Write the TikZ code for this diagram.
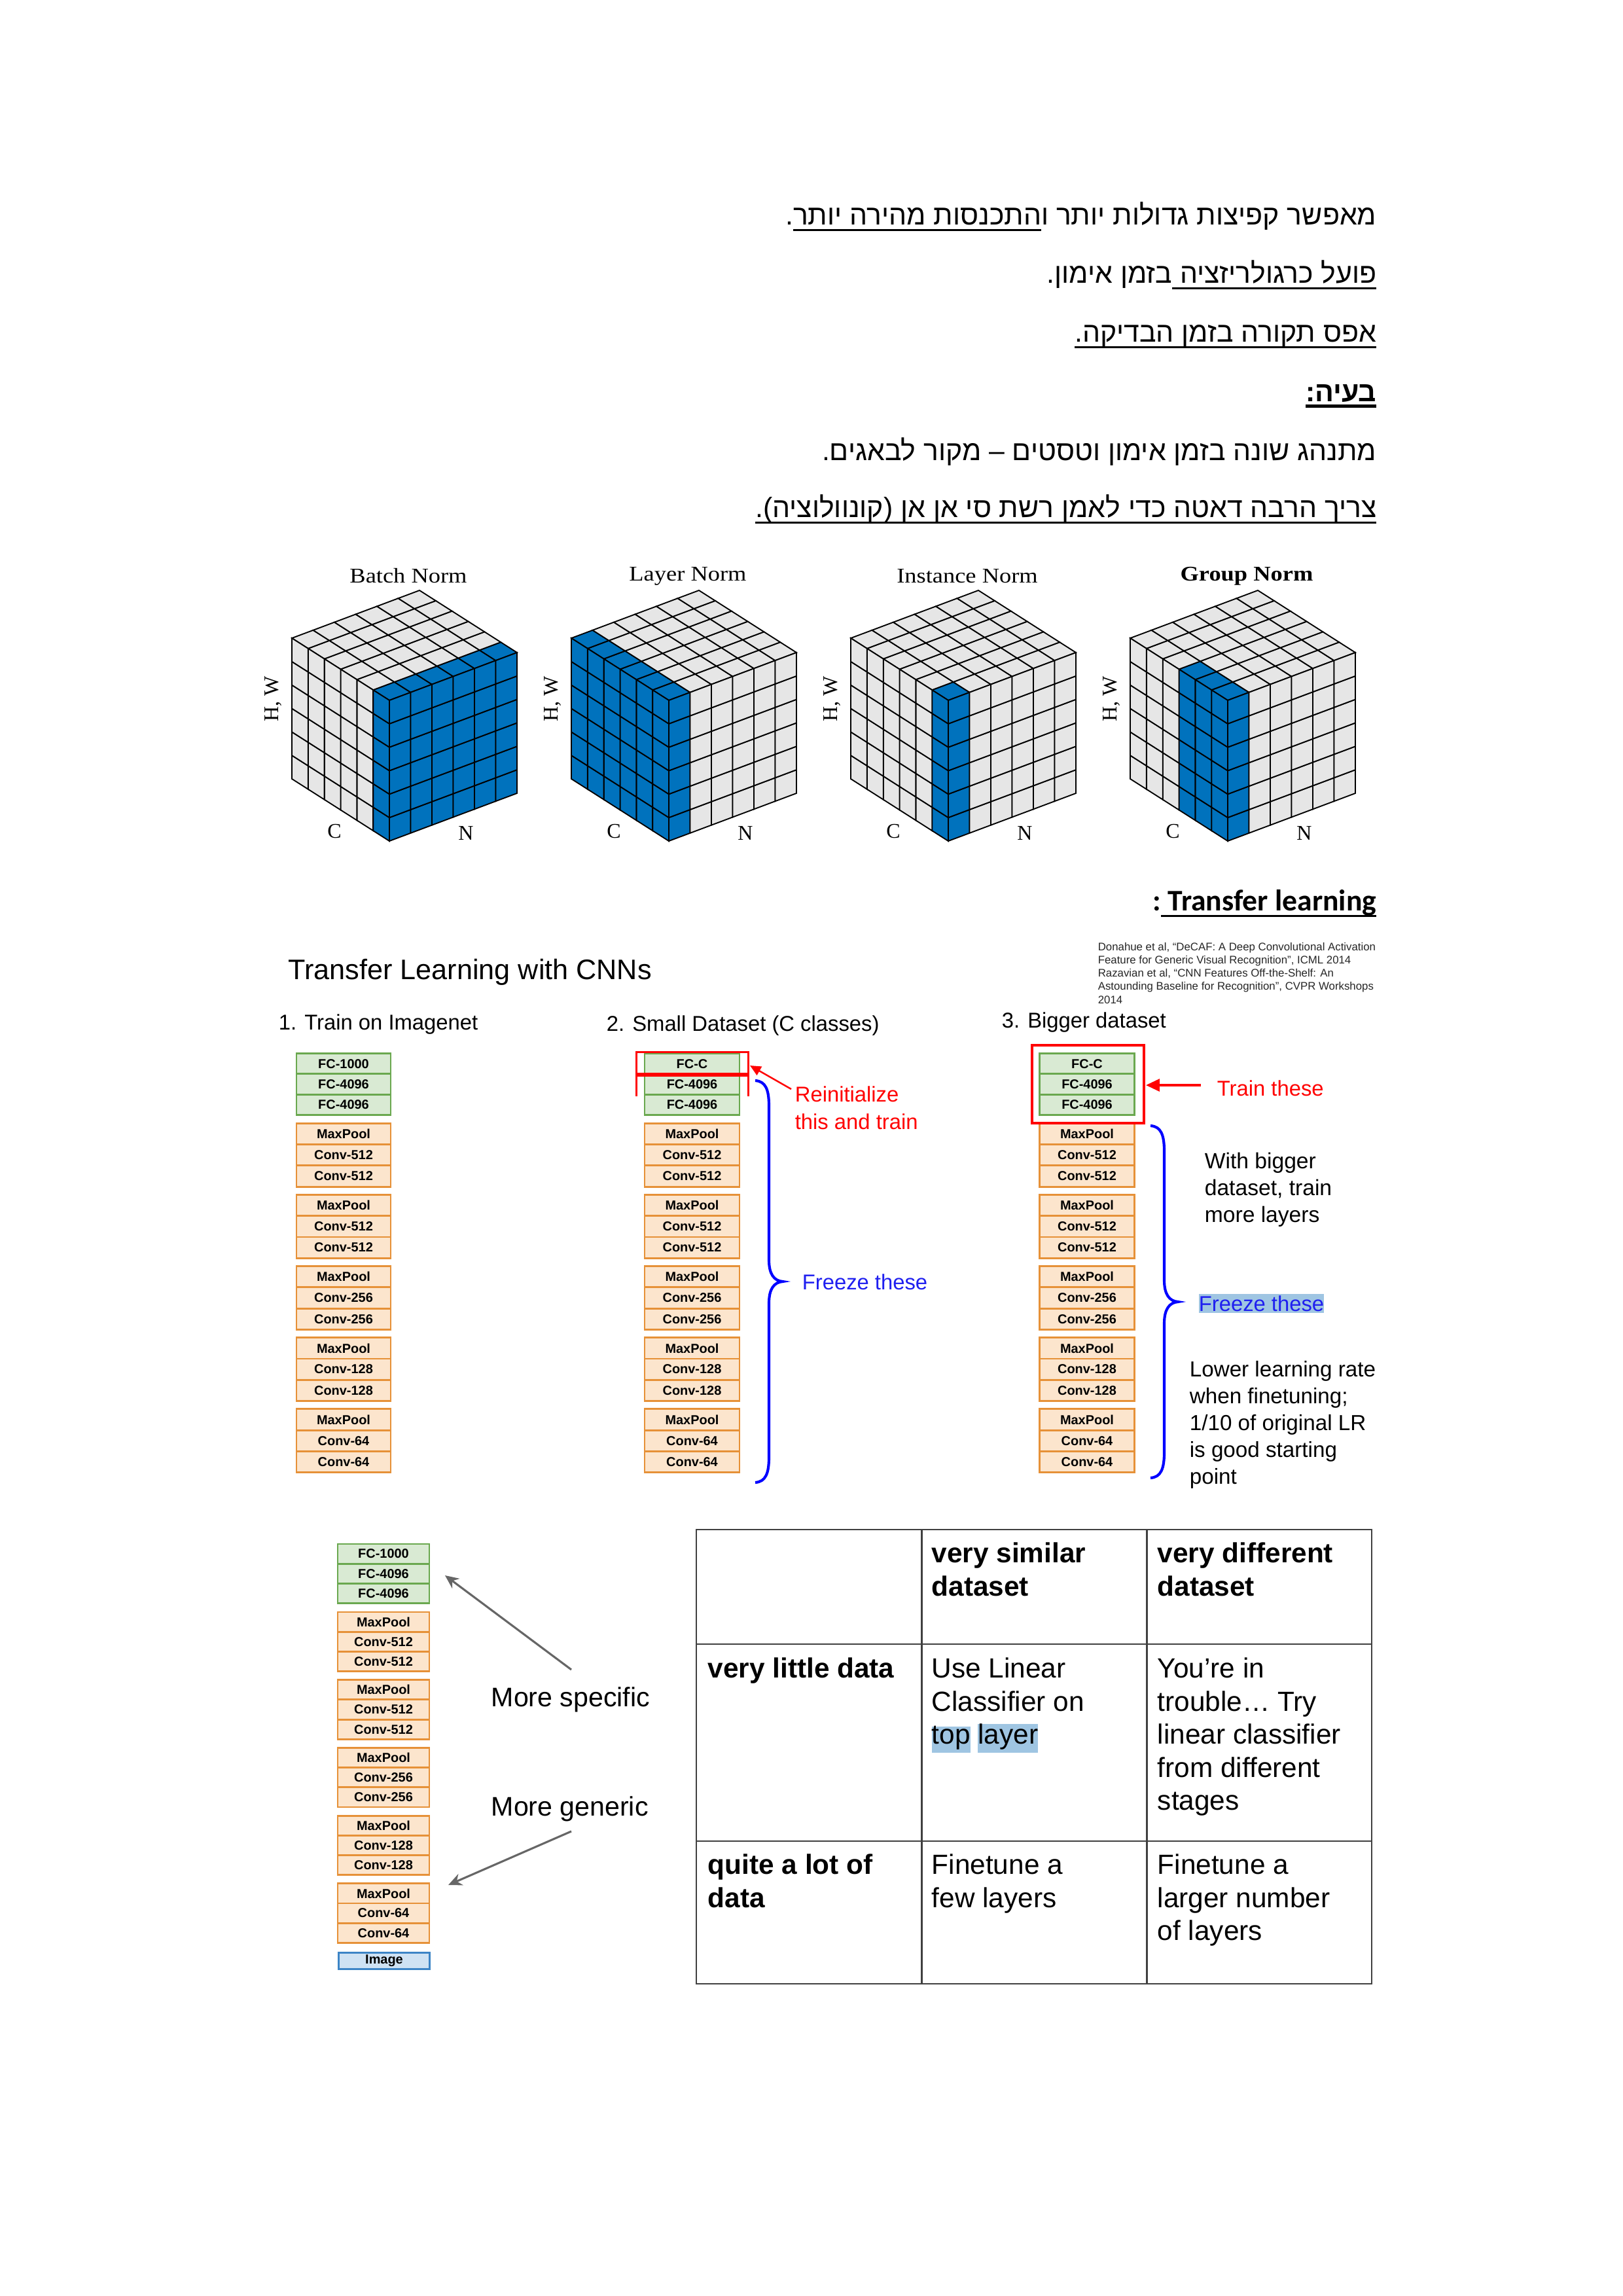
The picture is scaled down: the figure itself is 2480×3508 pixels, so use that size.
\documentclass[tikz,border=0pt]{standalone}
\usepackage{fontspec}
\setmainfont{Liberation Sans}
\newfontfamily\heb[Script=Hebrew]{Liberation Sans}
\newfontfamily\tms{Liberation Serif}
\newfontfamily\carl{Carlito}
\usetikzlibrary{arrows.meta}
\TeXXeTstate=1

\definecolor{fcfill}{HTML}{D9EAD3}
\definecolor{fcdraw}{HTML}{6AA84F}
\definecolor{cvfill}{HTML}{FCE5CD}
\definecolor{cvdraw}{HTML}{E69138}
\definecolor{imfill}{HTML}{CFE2F3}
\definecolor{imdraw}{HTML}{3D85C6}
\definecolor{nblue}{HTML}{0072BD}
\definecolor{ngrey}{HTML}{E6E6E6}
\definecolor{hlblue}{HTML}{9FC5E2}
\definecolor{tred}{HTML}{FF0000}
\definecolor{tblue}{HTML}{1F1FF0}
\definecolor{bblue}{HTML}{0000FF}
\definecolor{agrey}{HTML}{666666}
\definecolor{tline}{HTML}{404040}

\def\pxl{0.0846774mm}
\newcommand\fsz[2]{\fontsize{#1pt}{#2pt}\selectfont}
\newcommand\rtlul[2][0.65pt]{\setbox0\hbox{\beginR#2\endR}\hbox{\rlap{\copy0}\raisebox{-2.3pt}{\rule{\wd0}{#1}}}}
\newcommand\ltrul[2][0.7pt]{\setbox0\hbox{#2}\hbox{\rlap{\copy0}\raisebox{-2.4pt}{\rule{\wd0}{#1}}}}
\newcommand\hlw[1]{{\setlength{\fboxsep}{0pt}\colorbox{hlblue}{\rule[-3.1pt]{0pt}{9.6pt}#1}}}

\def\cx{(-24.833)}\def\cy{(-15.833)}\def\nx{32.5}\def\ny{(-12.167)}\def\hh{35.833}
\newcommand\pickcol[4]{\def\cc{ngrey}\ifnum#1<#3\relax\ifnum#2<#4\relax\def\cc{nblue}\fi\fi}
\newcommand\normcube[3]{%
 \begin{scope}[shift={(#1,1285)}]
 \foreach \i in {0,...,5}{\foreach \j in {0,...,5}{%
   \pickcol{\i}{\j}{#2}{#3}%
   \filldraw[cubeline,fill=\cc] ({\i*\cx+\j*\nx},{-215+\i*\cy+\j*\ny}) -- ({(\i+1)*\cx+\j*\nx},{-215+(\i+1)*\cy+\j*\ny}) -- ({(\i+1)*\cx+(\j+1)*\nx},{-215+(\i+1)*\cy+(\j+1)*\ny}) -- ({\i*\cx+(\j+1)*\nx},{-215+\i*\cy+(\j+1)*\ny}) -- cycle;
 }}
 \foreach \i in {0,...,5}{\foreach \k in {0,...,5}{%
   \pickcol{\i}{0}{#2}{#3}%
   \filldraw[cubeline,fill=\cc] ({\i*\cx},{\i*\cy-\k*\hh}) -- ({(\i+1)*\cx},{(\i+1)*\cy-\k*\hh}) -- ({(\i+1)*\cx},{(\i+1)*\cy-(\k+1)*\hh}) -- ({\i*\cx},{\i*\cy-(\k+1)*\hh}) -- cycle;
 }}
 \foreach \j in {0,...,5}{\foreach \k in {0,...,5}{%
   \pickcol{0}{\j}{#2}{#3}%
   \filldraw[cubeline,fill=\cc] ({\j*\nx},{\j*\ny-\k*\hh}) -- ({(\j+1)*\nx},{(\j+1)*\ny-\k*\hh}) -- ({(\j+1)*\nx},{(\j+1)*\ny-(\k+1)*\hh}) -- ({\j*\nx},{\j*\ny-(\k+1)*\hh}) -- cycle;
 }}
 \end{scope}}

\newcommand\cnnstack[9]{%
 \foreach \lab [count=\rowi from 0] in {#9,FC-4096,FC-4096}{%
  \node[fcrow,minimum width={#3*\pxl},minimum height={#5*\pxl}] (#1fc\rowi) at (#2,{#4+(\rowi+0.5)*#5}) {\lab};}
 \foreach \nm [count=\grpi from 1] in {512,512,256,128,64}{%
  \node[cvrow,minimum width={#3*\pxl},minimum height={#8*\pxl}] (#1g\grpi-a) at (#2,{#6+(\grpi-1)*#7+0.5*#8}) {MaxPool};
  \node[cvrow,minimum width={#3*\pxl},minimum height={#8*\pxl}] (#1g\grpi-b) at (#2,{#6+(\grpi-1)*#7+1.5*#8}) {Conv-\nm};
  \node[cvrow,minimum width={#3*\pxl},minimum height={#8*\pxl}] (#1g\grpi-c) at (#2,{#6+(\grpi-1)*#7+2.5*#8}) {Conv-\nm};}}

\begin{document}
\begin{tikzpicture}[x=\pxl,y=-\pxl,
  every node/.append style={inner sep=0pt},
  cubeline/.style={draw=black,line width=0.45pt},
  cubelab/.style={font=\tms\fsz{7.7}{9}},
  heb/.style={anchor=base east,font=\heb\fsz{10.3}{12.5}},
  fcrow/.style={draw=fcdraw,fill=fcfill,line width=0.7pt,font=\fsz{4.8}{5.7}\bfseries},
  cvrow/.style={draw=cvdraw,fill=cvfill,line width=0.7pt,font=\fsz{4.8}{5.7}\bfseries},
  imrow/.style={draw=imdraw,fill=imfill,line width=0.7pt,font=\fsz{4.8}{5.7}\bfseries},
  sub/.style={anchor=west,font=\fsz{7.9}{9.5}},
  blk/.style={anchor=north west,align=left},
  brace/.style={draw=bblue,line width=1pt},
  tcell/.style={anchor=north west,align=left,font=\fsz{10.2}{12.17}},
  garrow/.style={draw=agrey,line width=0.75pt,-{Stealth[length=5pt,width=4.5pt]}}
]
\useasboundingbox (0,0) rectangle (2480,3508);
\fill[white] (0,0) rectangle (2480,3508);

% Hebrew text
\node[heb] (h1) at (2104,343) {\beginR מאפשר קפיצות גדולות יותר ו\rtlul{התכנסות מהירה יותר}.\endR};
\node[heb] (h2) at (2104,432) {\beginR\rtlul{פועל כרגולריזציה }בזמן אימון.\endR};
\node[heb] (h3) at (2104,522) {\beginR\rtlul{אפס תקורה בזמן הבדיקה.}\endR};
\node[heb,font=\heb\bfseries\fsz{10.3}{12.5}] (h4) at (2104,613) {\beginR\rtlul[1pt]{בעיה:}\endR};
\node[heb] (h5) at (2104,703) {\beginR מתנהג שונה בזמן אימון וטסטים – מקור לבאגים.\endR};
\node[heb] (h6) at (2104,790) {\beginR\rtlul{צריך הרבה דאטה כדי לאמן רשת סי אן אן (קונוולוציה).}\endR};

% Norm cubes
\normcube{595}{1}{6}
\normcube{1022}{6}{1}
\normcube{1449}{1}{1}
\normcube{1876}{3}{1}
\foreach \k/\ttl in {0/{Batch Norm},1/{Layer Norm},2/{Instance Norm},3/{\bfseries Group Norm}}{
  \node[cubelab] (cubeT\k) at ({624+427*\k},880) {\scalebox{1.14}[1]{\ttl}};
  \node[cubelab,rotate=90] (cubeH\k) at ({417+427*\k},1068) {H, W};
  \node[cubelab] (cubeC\k) at ({511+427*\k},1270) {C};
  \node[cubelab] (cubeN\k) at ({712+427*\k},1273) {N};
}

% Transfer learning heading
\node[anchor=base east,font=\carl\bfseries\fsz{11}{13}] (tlh) at (2104,1391) {:\ltrul{ Transfer learning}};

% Slide
\node[anchor=west,font=\fsz{10.4}{12}] (slideT) at (440,1485) {Transfer Learning with CNNs};
\node[blk,font=\fsz{4.05}{4.85},text=black!85] (cite) at (1677,1438) {\rule{0pt}{3.3pt}Donahue et al, “DeCAF: A Deep Convolutional Activation\\Feature for Generic Visual Recognition”, ICML 2014\\Razavian et al, “CNN Features Off-the-Shelf: An\\Astounding Baseline for Recognition”, CVPR Workshops\\2014};
\node[sub] (s1) at (425,1565) {1. Train on Imagenet};
\node[sub] (s2) at (926,1567) {2. Small Dataset (C classes)};
\node[sub] (s3) at (1530,1562) {3. Bigger dataset};

\cnnstack{a}{525}{144}{1609.5}{31.4}{1716.5}{109.1}{32.2}{FC-1000}
\cnnstack{b}{1057.5}{145}{1609.5}{31.4}{1716.5}{109.1}{32.2}{FC-C}
\cnnstack{c}{1661}{144.5}{1609.5}{31.4}{1716.5}{109.1}{32.2}{FC-C}

% column 2 annotations
\draw[tred,line width=0.72pt] (972.5,1675) -- (972.5,1607) -- (1143,1607) -- (1143,1675);
\draw[tred,line width=1.45pt] (972.5,1642) -- (1143,1642);
\coordinate (rA) at (1209,1664);
\coordinate (rB) at (1146,1628);
\draw[tred,line width=0.6pt,-{Triangle[length=4pt,width=3.6pt]}] (rA) -- (rB);
\node[blk,font=\fsz{7.9}{10.1},text=tred] (reinit) at (1214,1656.8) {\rule{0pt}{6.3pt}Reinitialize\\this and train};
\draw[brace] (1154,1651) .. controls (1170,1652) and (1175,1665) .. (1175,1690) -- (1175,1925) .. controls (1175,1947) and (1183,1957) .. (1196,1958) .. controls (1183,1959) and (1175,1969) .. (1175,1991) -- (1175,2226) .. controls (1175,2251) and (1170,2264) .. (1154,2265);
\node[anchor=base west,font=\fsz{7.9}{9.5},text=tblue] (frz2) at (1225,1970) {Freeze these};

% column 3 annotations
\draw[tred,line width=0.8pt] (1577,1597) rectangle (1748,1716);
\coordinate (tA) at (1835,1658);
\coordinate (tB) at (1751,1658);
\draw[tred,line width=0.8pt,-{Triangle[length=5pt,width=4.5pt]}] (tA) -- (tB);
\node[anchor=base west,font=\fsz{7.9}{9.5},text=tred] (trn3) at (1859,1674) {Train these};
\draw[brace] (1758,1720) .. controls (1774,1721) and (1779,1734) .. (1779,1759) -- (1779,1956) .. controls (1779,1978) and (1787,1988) .. (1800,1989) .. controls (1787,1990) and (1779,2000) .. (1779,2022) -- (1779,2219) .. controls (1779,2244) and (1774,2257) .. (1758,2258);
\node[blk,font=\fsz{8.1}{9.88}] (bigger) at (1840,1758) {\rule{0pt}{6.5pt}With bigger\\dataset, train\\more layers};
\node[anchor=base west,fill=hlblue,text height=6.26pt,text depth=0.7pt,font=\fsz{7.9}{9.5},text=tblue] (frz3) at (1831,2003) {Freeze these};
\node[blk,font=\fsz{8}{9.88}] (lower) at (1817,2076.5) {\rule{0pt}{6.4pt}Lower learning rate\\when finetuning;\\1/10 of original LR\\is good starting\\point};

% bottom stack
\cnnstack{d}{586}{140}{2359}{30.2}{2463}{103.7}{30.2}{FC-1000}
\node[imrow,minimum width={139*\pxl},minimum height={24.6*\pxl}] (dimg) at (587,2996) {Image};
\coordinate (msA) at (873,2551);
\coordinate (msB) at (680,2407);
\draw[garrow] (msA) -- (msB);
\coordinate (mgA) at (873,2798);
\coordinate (mgB) at (685,2880);
\draw[garrow] (mgA) -- (mgB);
\node[anchor=base west,font=\fsz{9.9}{12}] (mspec) at (750,2607) {More specific};
\node[anchor=base west,font=\fsz{9.9}{12}] (mgen) at (750,2774) {More generic};

% table
\draw[tline,line width=0.6pt] (1064,2337) rectangle (2096,3031);
\draw[tline,line width=0.6pt] (1408.5,2337) -- (1408.5,3031);
\draw[tline,line width=0.6pt] (1752.5,2337) -- (1752.5,3031);
\draw[tline,line width=0.6pt] (1064,2512) -- (2096,2512);
\draw[tline,line width=0.6pt] (1064,2813) -- (2096,2813);
\node[tcell,font=\fsz{10.2}{12.17}\bfseries] (th2) at (1423,2353) {\rule{0pt}{8.2pt}very similar\\dataset};
\node[tcell,font=\fsz{10.2}{12.17}\bfseries] (th3) at (1768,2353) {\rule{0pt}{8.2pt}very different\\dataset};
\node[tcell,font=\fsz{10.2}{12.17}\bfseries] (tr1) at (1081,2529) {\rule{0pt}{8.2pt}very little data};
\node[tcell] (t12) at (1423,2529) {\rule{0pt}{8.2pt}Use Linear\\Classifier on\\\hlw{top} \hlw{layer}};
\node[tcell] (t13) at (1768,2529) {\rule{0pt}{8.2pt}You’re in\\trouble… Try\\linear classifier\\from different\\stages};
\node[tcell,font=\fsz{10.2}{12.17}\bfseries] (tr2) at (1081,2829) {\rule{0pt}{8.2pt}quite a lot of\\data};
\node[tcell] (t22) at (1423,2829) {\rule{0pt}{8.2pt}Finetune a\\few layers};
\node[tcell] (t23) at (1768,2829) {\rule{0pt}{8.2pt}Finetune a\\larger number\\of layers};
\end{tikzpicture}
\end{document}
